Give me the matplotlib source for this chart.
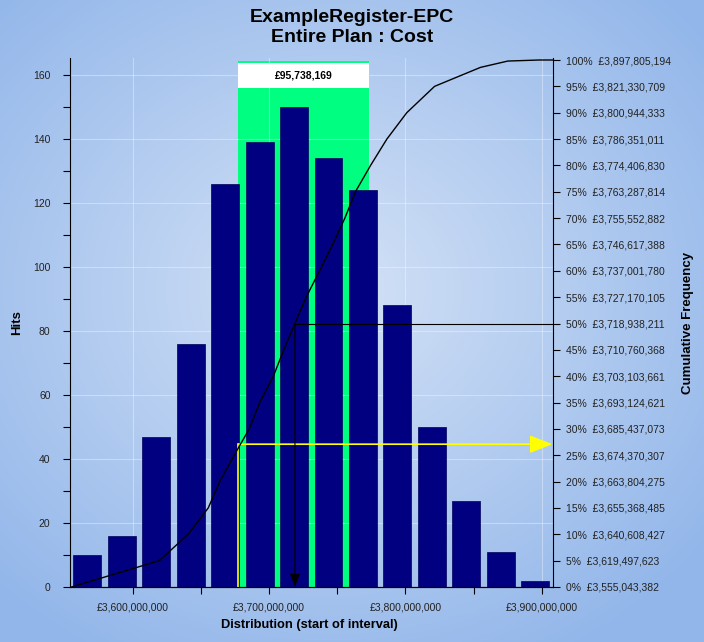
import matplotlib.pyplot as plt
import numpy as np
from matplotlib.patches import Rectangle
from matplotlib.ticker import FixedLocator, FuncFormatter

plt.rcParams['font.family'] = ['Liberation Sans', 'DejaVu Sans']

# histogram: start of each interval (GBP) and hits per interval
bin_starts = [3554.0e6, 3579.3e6, 3604.5e6, 3629.8e6, 3655.1e6, 3680.4e6, 3705.6e6,
              3730.9e6, 3756.2e6, 3781.4e6, 3806.7e6, 3832.0e6, 3857.3e6, 3882.5e6]
axis_end = 3907.8e6
hits = [10, 16, 47, 76, 126, 139, 150, 134, 124, 88, 50, 27, 11, 2]

# cumulative frequency (right axis labels)
pcts = [0, 5, 10, 15, 20, 25, 30, 35, 40, 45, 50, 55, 60, 65, 70, 75, 80, 85, 90, 95, 100]
pct_values = [3555043382, 3619497623, 3640608427, 3655368485, 3663804275, 3674370307,
              3685437073, 3693124621, 3703103661, 3710760368, 3718938211, 3727170105,
              3737001780, 3746617388, 3755552882, 3763287814, 3774406830, 3786351011,
              3800944333, 3821330709, 3897805194]
# extra points
curve_top_x = [3840e6, 3855e6, 3875e6]
curve_top_y = [97.0, 98.6, 99.8]

# highlighted range
range_start = 3677.5e6
range_width = 95738169
range_start_pct = 27.1
median_pct = 50

x_major = [3600e6, 3700e6, 3800e6, 3900e6]
x_minor = [3650e6, 3750e6, 3850e6]

W, H = 704, 642
fig = plt.figure(figsize=(W / 100, H / 100), dpi=100)

# background gradient
bg = fig.add_axes([0, 0, 1, 1], zorder=-10)
yy, xx = np.mgrid[0:H, 0:W]
r = np.sqrt(((xx - 330) / 480.0) ** 2 + ((yy - 290) / 420.0) ** 2)
r = np.clip(r, 0, 1)
c_in = np.array([212, 226, 246]) / 255.0
c_out = np.array([146, 182, 234]) / 255.0
img = c_in[None, None, :] * (1 - r[..., None]) + c_out[None, None, :] * r[..., None]
bg.imshow(img, aspect='auto', extent=[0, 1, 0, 1])
bg.axis('off')

left, right, top, bottom = 70, 552.5, 58, 587
ax = fig.add_axes([left / W, 1 - bottom / H, (right - left) / W, (bottom - top) / H])
ax.patch.set_alpha(0)

bin_w = bin_starts[1] - bin_starts[0]
centers = [b + bin_w / 2 for b in bin_starts]

ax.set_xlim(bin_starts[0], axis_end)
ax.set_ylim(0, 165.3)

ax.add_patch(Rectangle((range_start, 0), range_width, 164.4, color='#00FF80', lw=0, zorder=0.5))
ax.grid(True, color='white', alpha=0.35, lw=0.8)
for line in ax.get_xgridlines() + ax.get_ygridlines():
    line.set_zorder(1)

ax.bar(centers, hits, width=bin_w * 0.81, color='#000080', edgecolor='#00005a', lw=0.5, zorder=2)

ax.add_patch(Rectangle((range_start, 155.9), range_width, 7.9, color='white', lw=0, zorder=3))
ax.text(range_start + range_width / 2, 159.85, f"£{range_width:,}", ha='center', va='center',
        fontsize=7.5, fontweight='bold', zorder=4)

ax.set_yticks(range(0, 161, 20))
ax.yaxis.set_minor_locator(FixedLocator(range(10, 161, 20)))
ax.xaxis.set_major_locator(FixedLocator(x_major))
ax.xaxis.set_minor_locator(FixedLocator(x_minor))
ax.xaxis.set_major_formatter(FuncFormatter(lambda v, p: f"£{v:,.0f}"))
ax.tick_params(axis='both', which='both', direction='out', length=5, width=0.8,
               labelsize=7.5, labelcolor='#222222')
ax.tick_params(axis='y', pad=9)
ax.tick_params(axis='x', pad=6)
ax.spines['top'].set_visible(False)
ax.spines['right'].set_visible(False)

ax2 = ax.twinx()
ax2.patch.set_alpha(0)
ax2.set_ylim(0, 100.38)
ax2.set_yticks(pcts)
ax2.set_yticklabels([f"{p}%  £{v:,}" for p, v in zip(pcts, pct_values)])
ax2.tick_params(axis='y', direction='out', length=5, width=0.8, pad=5,
                labelsize=7.5, labelcolor='#222222')
ax2.spines['top'].set_visible(False)
ax2.spines['left'].set_visible(False)

cx = list(pct_values[:-1]) + curve_top_x + [pct_values[-1], axis_end]
cy = list(pcts[:-1]) + curve_top_y + [100, 100]
ax2.plot(cx, cy, color='black', lw=1, zorder=5)

# lower bound marker (yellow)
ax2.plot([range_start, range_start], [0, range_start_pct], color='#FFFF00', lw=1.2, zorder=4)
ax2.annotate('', xy=(axis_end, range_start_pct), xytext=(range_start, range_start_pct),
             arrowprops=dict(arrowstyle='-|>,head_length=1.4,head_width=0.55',
                             color='#FFFF00', lw=1.2, shrinkA=0, shrinkB=0), zorder=4)

# median marker (black)
median_val = pct_values[pcts.index(median_pct)]
ax2.plot([median_val, axis_end], [median_pct, median_pct], color='black', lw=0.8, zorder=4)
ax2.annotate('', xy=(median_val, 0), xytext=(median_val, median_pct),
             arrowprops=dict(arrowstyle='-|>,head_length=0.8,head_width=0.3',
                             color='black', lw=0.8, shrinkA=0, shrinkB=0), zorder=4)

fig.text(0.5, 1 - 17 / H, "ExampleRegister-EPC", ha='center', va='center',
         fontsize=14, fontweight='bold')
fig.text(0.5, 1 - 38 / H, "Entire Plan : Cost", ha='center', va='center',
         fontsize=14, fontweight='bold')
fig.text(17 / W, 1 - 323 / H, "Hits", rotation=90, ha='center', va='center',
         fontsize=9.5, fontweight='bold')
fig.text(688 / W, 1 - 323 / H, "Cumulative Frequency", rotation=90, ha='center', va='center',
         fontsize=9.5, fontweight='bold')
fig.text(309 / W, 1 - 625 / H, "Distribution (start of interval)", ha='center', va='center',
         fontsize=9.3, fontweight='bold')

fig.savefig('out.png', dpi=100)
